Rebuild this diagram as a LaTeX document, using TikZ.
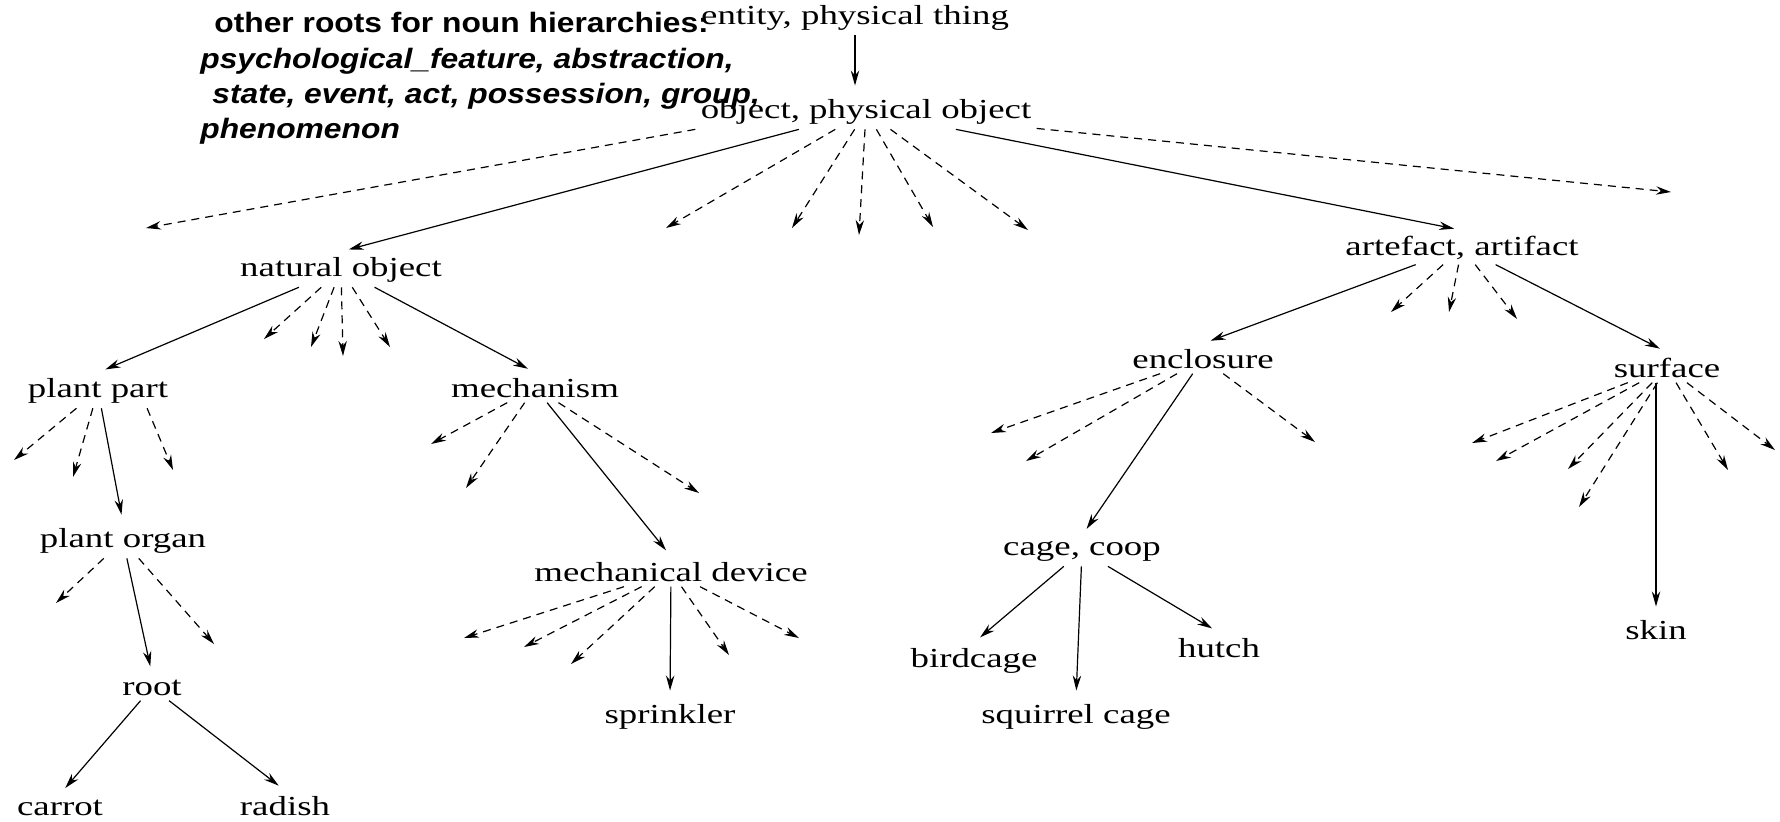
\documentclass[tikz,border=0pt]{standalone}
\usepackage{fontspec}
\usetikzlibrary{arrows.meta}
\newfontfamily\treefont[FakeStretch=1.34]{Liberation Serif}
\newfontfamily\notefont[FakeStretch=1.135]{Liberation Sans}

\begin{document}
\begin{tikzpicture}[x=0.5pt, y=-0.5pt,
  lbl/.style={font=\treefont\fontsize{13.75}{15}\selectfont, inner sep=2.5pt, anchor=base},
  isa/.style={-{Stealth[length=7.5pt,width=4.2pt]}, line width=0.6pt, shorten >=4pt},
  other/.style={isa, dash pattern=on 4pt off 3pt, shorten >=0pt}]

\useasboundingbox (0,0) rectangle (1780,821);

% note on the other roots
\node[anchor=north west, inner sep=0pt, align=left,
  font=\notefont\bfseries\fontsize{14}{17.7}\selectfont] (roots) at (200,12)
  {\hspace*{7pt}other roots for noun hierarchies:\\
   \textit{psychological\_feature, abstraction,}\\
   \hspace*{6pt}\textit{state, event, act, possession, group,}\\
   \textit{phenomenon}};

% the words
\node[lbl] (ent) at (855,24) {entity, physical thing};
\node[lbl] (obj) at (866,118) {object, physical object};
\node[lbl] (nat) at (341,276) {natural object};
\node[lbl] (pp) at (98,397) {plant part};
\node[lbl] (mech) at (535,397) {mechanism};
\node[lbl] (po) at (123,547) {plant organ};
\node[lbl] (md) at (671,581) {mechanical device};
\node[lbl] (root) at (152,695) {root};
\node[lbl] (spr) at (670,723) {sprinkler};
\node[lbl] (carrot) at (60,815) {carrot};
\node[lbl] (radish) at (285,815) {radish};
\node[lbl] (art) at (1462,255) {artefact, artifact};
\node[lbl] (enc) at (1203,368) {enclosure};
\node[lbl] (surf) at (1667,377) {surface};
\node[lbl] (cage) at (1082,555) {cage, coop};
\node[lbl] (bird) at (974,667) {birdcage};
\node[lbl] (hutch) at (1219,657) {hutch};
\node[lbl] (squir) at (1076,723) {squirrel cage};
\node[lbl] (skin) at (1656,639) {skin};

% ends of the hyponyms that are left out
\coordinate (o1) at (146,228);
\coordinate (o2) at (666,228);
\coordinate (o3) at (792,228);
\coordinate (o4) at (859,235);
\coordinate (o5) at (933,227);
\coordinate (o6) at (1028,230);
\coordinate (o7) at (1671,192);
\coordinate (n1) at (264,339);
\coordinate (n2) at (311,347);
\coordinate (n3) at (343,356);
\coordinate (n4) at (390,347);
\coordinate (p1) at (14,460);
\coordinate (p2) at (73,477);
\coordinate (p3) at (173,470);
\coordinate (m1) at (431,444);
\coordinate (m2) at (466,488);
\coordinate (m3) at (699,493);
\coordinate (g1) at (56,603);
\coordinate (g2) at (214,644);
\coordinate (d1) at (464,638);
\coordinate (d2) at (524,647);
\coordinate (d3) at (571,664);
\coordinate (d4) at (729,655);
\coordinate (d5) at (799,638);
\coordinate (a1) at (1391,312);
\coordinate (a2) at (1449,312);
\coordinate (a3) at (1517,319);
\coordinate (e1) at (991,433);
\coordinate (e2) at (1026,461);
\coordinate (e3) at (1315,442);
\coordinate (s1) at (1472,443);
\coordinate (s2) at (1496,461);
\coordinate (s3) at (1568,469);
\coordinate (s4) at (1579,507);
\coordinate (s5) at (1728,470);
\coordinate (s6) at (1775,450);

% is-a links
\draw[isa] (ent) -- (ent |- obj.north);
\draw[isa] (obj) -- (nat.north);
\draw[isa] (obj) -- (art.north);
\draw[isa] (nat) -- (pp.north);
\draw[isa] (nat) -- (mech.north);
\draw[isa] (pp) -- (po.north);
\draw[isa] (mech) -- (md.north);
\draw[isa] (po) -- (root.north);
\draw[isa] (root) -- (carrot.north);
\draw[isa] (root) -- (radish.north);
\draw[isa] (md) -- (spr.north);
\draw[isa] (art) -- (enc.north);
\draw[isa] (art) -- (surf.north);
\draw[isa] (enc) -- (cage.north);
\draw[isa] (cage) -- (bird.north);
\draw[isa] (cage) -- (squir.north);
\draw[isa] (cage) -- (hutch.north);
\draw[isa] (surf.south -| skin) -- (skin.north);

% dashed links
\draw[other] (obj.south west) -- (o1);
\draw[other] (obj) -- (o2);
\draw[other] (obj) -- (o3);
\draw[other] (obj) -- (o4);
\draw[other] (obj) -- (o5);
\draw[other] (obj) -- (o6);
\draw[other] (obj) -- (o7);
\draw[other] (nat) -- (n1);
\draw[other] (nat) -- (n2);
\draw[other] (nat) -- (n3);
\draw[other] (nat) -- (n4);
\draw[other] (pp) -- (p1);
\draw[other] (pp) -- (p2);
\draw[other] (pp.-20) -- (p3);
\draw[other] (mech) -- (m1);
\draw[other] (mech) -- (m2);
\draw[other] (mech) -- (m3);
\draw[other] (po) -- (g1);
\draw[other] (po) -- (g2);
\draw[other] (md) -- (d1);
\draw[other] (md) -- (d2);
\draw[other] (md) -- (d3);
\draw[other] (md) -- (d4);
\draw[other] (md) -- (d5);
\draw[other] (art) -- (a1);
\draw[other] (art) -- (a2);
\draw[other] (art) -- (a3);
\draw[other] (enc) -- (e1);
\draw[other] (enc) -- (e2);
\draw[other] (enc) -- (e3);
\draw[other] (surf) -- (s1);
\draw[other] (surf) -- (s2);
\draw[other] (surf) -- (s3);
\draw[other] (surf) -- (s4);
\draw[other] (surf) -- (s5);
\draw[other] (surf) -- (s6);

\end{tikzpicture}
\end{document}
